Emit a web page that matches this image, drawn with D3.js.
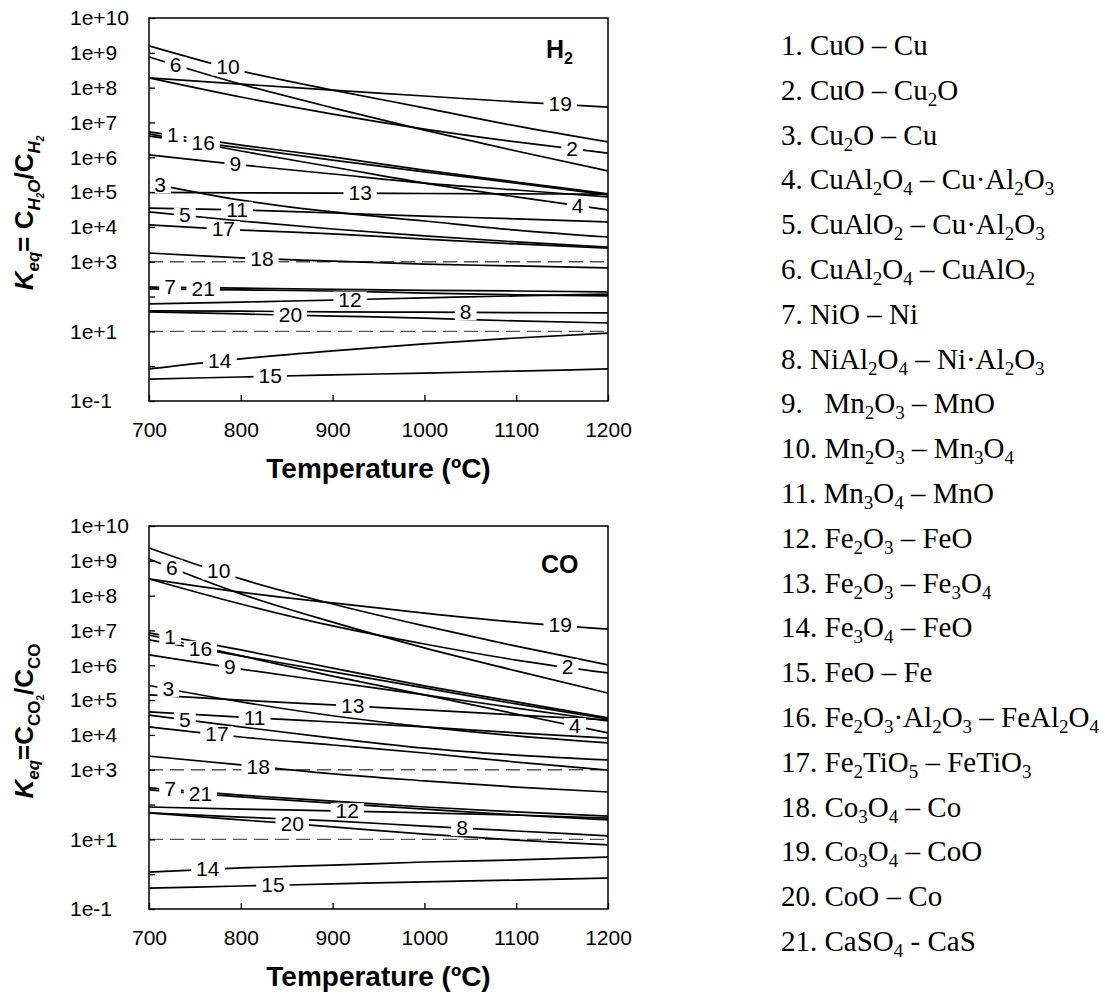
<!DOCTYPE html>
<html>
<head>
<meta charset="utf-8">
<script src="https://cdn.jsdelivr.net/npm/d3@7"></script>
<style>
  body { margin: 0; background: #fff; }
</style>
</head>
<body>
<svg width="1105" height="1000"></svg>
<script>
// temperatures (ºC) at which each curve was read
var temps = [700, 800, 900, 1000, 1100, 1200];

// log10(Keq) with H2, series 1..21
var h2LogK = [
  [6.73, 6.35, 6.01, 5.63, 5.29, 4.95],
  [8.28, 7.73, 7.24, 6.81, 6.44, 6.12],
  [5.26, 4.77, 4.43, 4.17, 3.91, 3.71],
  [6.67, 6.18, 5.72, 5.26, 4.86, 4.49],
  [4.43, 4.17, 3.94, 3.74, 3.57, 3.42],
  [8.88, 8.10, 7.42, 6.78, 6.18, 5.61],
  [2.27, 2.24, 2.21, 2.18, 2.16, 2.13],
  [1.59, 1.58, 1.56, 1.55, 1.54, 1.53],
  [6.07, 5.78, 5.52, 5.26, 5.06, 4.86],
  [9.20, 8.48, 7.93, 7.42, 6.90, 6.44],
  [4.54, 4.49, 4.40, 4.31, 4.23, 4.14],
  [1.79, 1.84, 1.90, 1.96, 2.02, 2.07],
  [4.99, 4.98, 4.97, 4.96, 4.95, 4.94],
  [-0.08, 0.21, 0.44, 0.64, 0.81, 0.95],
  [-0.37, -0.31, -0.25, -0.20, -0.14, -0.08],
  [6.61, 6.27, 5.92, 5.58, 5.26, 4.92],
  [4.06, 3.91, 3.80, 3.65, 3.51, 3.39],
  [3.25, 3.11, 3.02, 2.93, 2.88, 2.82],
  [8.28, 8.10, 7.93, 7.76, 7.59, 7.44],
  [1.56, 1.50, 1.44, 1.38, 1.30, 1.24],
  [2.22, 2.19, 2.16, 2.10, 2.05, 2.02]
];
// temperature where the number sits on each H2 curve
var h2LabelT = [726, 1161, 712, 1167, 739, 729, 723, 1045, 794, 786, 796, 919, 930, 777, 832, 759, 781, 823, 1148, 854, 759];

// log10(Keq) with CO, series 1..21
var coLogK = [
  [6.93, 6.44, 5.92, 5.41, 4.95, 4.49],
  [8.48, 7.76, 7.13, 6.61, 6.15, 5.78],
  [5.42, 4.95, 4.55, 4.23, 3.97, 3.77],
  [6.87, 6.27, 5.69, 5.15, 4.60, 4.06],
  [4.57, 4.23, 3.91, 3.62, 3.42, 3.28],
  [9.05, 8.05, 7.24, 6.50, 5.84, 5.20],
  [2.48, 2.27, 2.10, 1.93, 1.79, 1.67],
  [1.76, 1.64, 1.53, 1.38, 1.24, 1.10],
  [6.30, 5.89, 5.52, 5.15, 4.77, 4.40],
  [9.37, 8.48, 7.76, 7.13, 6.55, 6.01],
  [4.66, 4.51, 4.37, 4.23, 4.06, 3.91],
  [1.93, 1.87, 1.82, 1.76, 1.70, 1.61],
  [5.15, 5.00, 4.86, 4.72, 4.57, 4.43],
  [0.06, 0.18, 0.26, 0.35, 0.41, 0.49],
  [-0.40, -0.34, -0.28, -0.22, -0.17, -0.11],
  [6.73, 6.27, 5.81, 5.35, 4.89, 4.46],
  [4.23, 3.94, 3.71, 3.48, 3.22, 2.99],
  [3.39, 3.14, 2.88, 2.68, 2.50, 2.36],
  [8.48, 8.10, 7.79, 7.50, 7.24, 7.04],
  [1.76, 1.56, 1.36, 1.15, 0.98, 0.84],
  [2.42, 2.22, 2.04, 1.87, 1.70, 1.56]
];
var coLabelT = [723, 1156, 721, 1164, 739, 725, 723, 1041, 788, 776, 815, 916, 922, 764, 835, 756, 774, 819, 1148, 856, 756];

var xTicks = [700, 800, 900, 1000, 1100, 1200];
var yTicks = [1e10, 1e9, 1e8, 1e7, 1e6, 1e5, 1e4, 1e3, 1e2, 1e1, 1e0, 1e-1];
var yTickLabels = ["1e+10", "1e+9", "1e+8", "1e+7", "1e+6", "1e+5", "1e+4", "1e+3", "", "1e+1", "", "1e-1"];
var refLines = [1e3, 1e1];

// legend, {n} = subscript
var legendNames = [
  "CuO – Cu",
  "CuO – Cu{2}O",
  "Cu{2}O – Cu",
  "CuAl{2}O{4} – Cu·Al{2}O{3}",
  "CuAlO{2} – Cu·Al{2}O{3}",
  "CuAl{2}O{4} – CuAlO{2}",
  "NiO – Ni",
  "NiAl{2}O{4} – Ni·Al{2}O{3}",
  "  Mn{2}O{3} – MnO",
  "Mn{2}O{3} – Mn{3}O{4}",
  "Mn{3}O{4} – MnO",
  "Fe{2}O{3} – FeO",
  "Fe{2}O{3} – Fe{3}O{4}",
  "Fe{3}O{4} – FeO",
  "FeO – Fe",
  "Fe{2}O{3}·Al{2}O{3} – FeAl{2}O{4}",
  "Fe{2}TiO{5} – FeTiO{3}",
  "Co{3}O{4} – Co",
  "Co{3}O{4} – CoO",
  "CoO – Co",
  "CaSO{4} - CaS"
];

var sans = "Arial, 'Liberation Sans', sans-serif";
var serif = "'Times New Roman', 'Liberation Serif', serif";
var svg = d3.select("svg");
var left = 149, plotW = 459, plotH = 383;

function drawPanel(top, logK, labelT, tag, yTitle) {
  var x = d3.scaleLinear().domain([700, 1200]).range([left, left + plotW]);
  var y = d3.scaleLog().domain([1e-1, 1e10]).range([top + plotH, top]);
  var g = svg.append("g").attr("font-family", sans);

  g.selectAll("line.ref")
    .data(refLines)
    .enter().append("line")
    .attr("x1", left).attr("x2", left + plotW)
    .attr("y1", function(d) { return y(d); })
    .attr("y2", function(d) { return y(d); })
    .attr("stroke", "#555")
    .attr("stroke-width", 1.3)
    .attr("stroke-dasharray", "14,7");

  var line = d3.line()
    .x(function(d, i) { return x(temps[i]); })
    .y(function(d) { return y(Math.pow(10, d)); })
    .curve(d3.curveMonotoneX);

  g.selectAll("path.curve")
    .data(logK)
    .enter().append("path")
    .attr("class", "curve")
    .attr("d", line)
    .attr("fill", "none")
    .attr("stroke", "#000")
    .attr("stroke-width", 1.7);

  // inline numbers on the curves
  var lab = g.selectAll("g.lab")
    .data(logK)
    .enter().append("g")
    .attr("class", "lab")
    .attr("transform", function(d, i) {
      var at = d3.scaleLinear().domain(temps).range(d)(labelT[i]);
      return "translate(" + x(labelT[i]) + "," + y(Math.pow(10, at)) + ")";
    });
  lab.append("rect").attr("fill", "#fff");
  lab.append("text")
    .attr("text-anchor", "middle")
    .attr("dy", "0.33em")
    .attr("font-size", 21)
    .text(function(d, i) { return i + 1; });
  lab.each(function() {
    var t = d3.select(this).select("text").node().getBBox();
    d3.select(this).select("rect")
      .attr("x", t.x - 5).attr("y", -8)
      .attr("width", t.width + 10).attr("height", 16);
  });

  g.append("rect")
    .attr("x", left).attr("y", top)
    .attr("width", plotW).attr("height", plotH)
    .attr("fill", "none").attr("stroke", "#000").attr("stroke-width", 1.5);

  var yAxis = g.append("g")
    .attr("transform", "translate(" + left + ",0)")
    .call(d3.axisLeft(y).tickValues(yTicks).tickSizeInner(-6).tickSizeOuter(0)
      .tickFormat(function(d, i) { return yTickLabels[i]; }));
  yAxis.select(".domain").remove();
  yAxis.selectAll(".tick text").attr("x", 70 - left).attr("text-anchor", "start");

  var xAxis = g.append("g")
    .attr("transform", "translate(0," + (top + plotH) + ")")
    .call(d3.axisBottom(x).tickValues(xTicks).tickSizeInner(-6).tickSizeOuter(0).tickPadding(21)
      .tickFormat(d3.format("d")));
  xAxis.select(".domain").remove();

  g.selectAll(".tick text").attr("font-size", 21).attr("font-family", sans).attr("fill", "#000");
  g.selectAll(".tick line").attr("stroke", "#000").attr("stroke-width", 1.3);

  g.append("text")
    .attr("x", left + plotW / 2).attr("y", top + plotH + 77)
    .attr("text-anchor", "middle")
    .attr("font-size", 28).attr("font-weight", "bold")
    .text("Temperature (ºC)");

  tag(g.append("text").attr("font-weight", "bold").attr("font-size", 25));

  var yt = g.append("text")
    .attr("transform", "translate(33," + (top + 195) + ") rotate(-90)")
    .attr("text-anchor", "middle")
    .attr("font-size", 26).attr("font-weight", "bold");
  yTitle.forEach(function(p) {
    yt.append("tspan")
      .attr("font-style", p[1] ? "italic" : null)
      .attr("font-size", p[2])
      .attr("dy", p[3])
      .text(p[0]);
  });
}

drawPanel(18, h2LogK, h2LabelT,
  function(t) {
    t.attr("x", 546).attr("y", 58);
    t.append("tspan").text("H");
    t.append("tspan").attr("font-size", 16).attr("dy", 6).text("2");
  },
  [["K", true, 26, 0], ["eq", true, 17, 6], ["= C", false, 26, -6], ["H", true, 17, 7],
   ["2", true, 10, 4], ["O", true, 17, -4], ["/C", false, 26, -7], ["H", true, 17, 7], ["2", true, 10, 4]]);

drawPanel(526, coLogK, coLabelT,
  function(t) {
    t.attr("x", 541).attr("y", 573).text("CO");
  },
  [["K", true, 26, 0], ["eq", true, 17, 6], ["=C", false, 26, -6], ["CO", false, 17, 7],
   ["2", false, 10, 4], ["/C", false, 26, -11], ["CO", false, 17, 7]]);

// legend
var legend = svg.append("g");

legend.selectAll("text")
  .data(legendNames)
  .enter().append("text")
  .attr("x", 781)
  .attr("y", function(d, i) { return 55 + i * 44.8; })
  .attr("font-family", serif)
  .attr("font-size", 29)
  .attr("xml:space", "preserve")
  .each(function(d, i) {
    var t = d3.select(this);
    t.append("tspan").text((i + 1) + ". ");
    var parts = d.split(/(\{\d\})/);
    var down = false;
    parts.forEach(function(p) {
      if (!p) return;
      var m = p.match(/^\{(\d)\}$/);
      if (m) {
        t.append("tspan").attr("font-size", 19).attr("dy", down ? 0 : 6).text(m[1]);
        down = true;
      } else {
        t.append("tspan").attr("dy", down ? -6 : 0).text(p);
        down = false;
      }
    });
  });
</script>
</body>
</html>
